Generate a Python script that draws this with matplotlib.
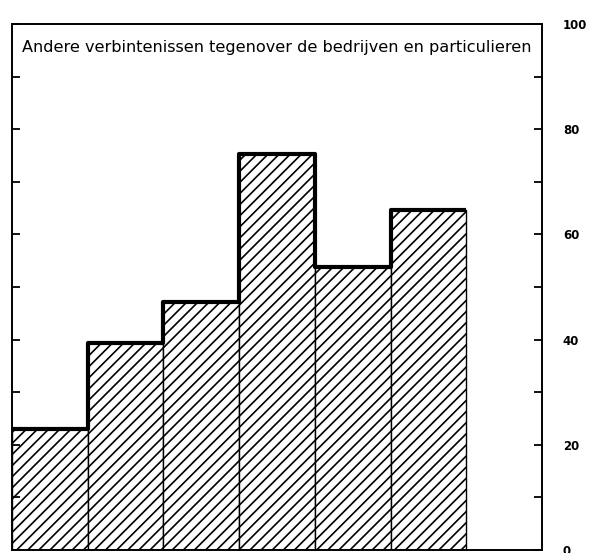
import numpy as np
import matplotlib
matplotlib.use("Agg")
import matplotlib.pyplot as plt

# bar heights (one empty slot at the end)
slots = [1, 2, 3, 4, 5, 6, 7]
values = [23.0, 39.4, 47.1, 75.3, 53.8, 64.6]
yticks = [0, 20, 40, 60, 80, 100]
title = "Andere verbintenissen tegenover de bedrijven en particulieren"

plt.rcParams["hatch.linewidth"] = 1.2

fig = plt.figure(figsize=(5.9, 5.53), dpi=100)
ax = fig.add_axes([12 / 590, 3 / 553, 530 / 590, 526 / 553])

x = np.array(slots[:len(values)], dtype=float)
ax.bar(x, values, width=1.0, align="edge", color="white", hatch="///",
       edgecolor="black", linewidth=1.0)

# thick step outline along the top of the bars
xs = np.append(x, x[-1] + 1)
ys = np.append(values, values[-1])
ax.step(xs, ys, where="post", color="black", linewidth=3, solid_capstyle="butt")

ax.set_xlim(slots[0], slots[-1] + 1)
ax.set_ylim(0, 100)
ax.set_xticks([])

ax.yaxis.tick_right()
ax.set_yticks(yticks)
ax.set_yticks(np.arange(10, 100, 20), minor=True)
ax.tick_params(axis="y", which="both", direction="in", length=6, width=1.3,
               left=True, right=True, labelleft=False, labelright=True)
ax.tick_params(axis="y", which="major", pad=15)
for lab in ax.get_yticklabels():
    lab.set_fontweight("bold")
    lab.set_fontsize(8.5)

for s in ax.spines.values():
    s.set_linewidth(1.4)

ax.text(0.5, 0.955, title, transform=ax.transAxes, ha="center", va="center",
        fontsize=11.6)

fig.savefig("out.png", dpi=100)
